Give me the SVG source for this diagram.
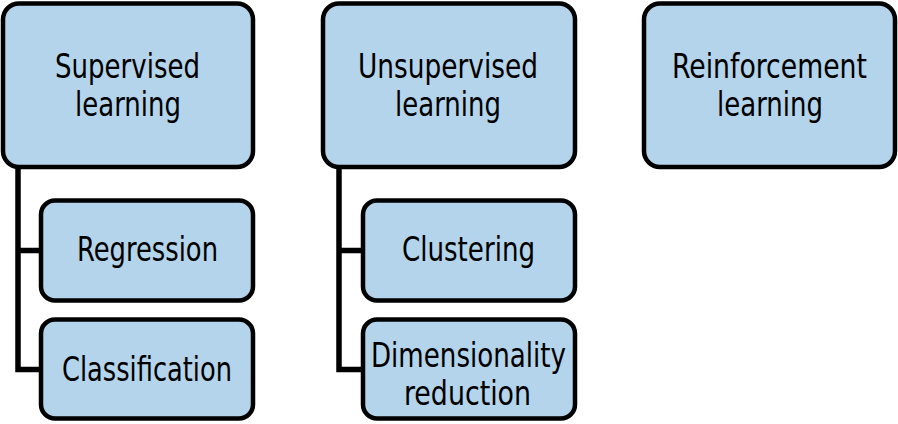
<svg xmlns="http://www.w3.org/2000/svg" width="898" height="424" viewBox="0 0 898 424">
<style>
.box{fill:#b3d4ea;stroke:#000;stroke-width:4.5}
.t{font-family:"DejaVu Sans Condensed","DejaVu Sans",sans-serif;font-stretch:condensed;font-size:34px;fill:#000;text-anchor:middle}
.c{fill:none;stroke:#000;stroke-width:5.5}
</style>
<rect width="898" height="424" fill="#fff"/>
<g id="connectors">
<path class="c" d="M18 167 V369.5 H41 M18 250.5 H41"/>
<path class="c" d="M339 167 V369.5 H363 M339 250.5 H363"/>
</g>
<g id="supervised">
<rect class="box" x="3" y="3.5" width="250" height="163.5" rx="16"/>
<text class="t" x="127.5" y="78" textLength="145" lengthAdjust="spacingAndGlyphs">Supervised</text>
<text class="t" x="128" y="116" textLength="106" lengthAdjust="spacingAndGlyphs">learning</text>
</g>
<g id="regression">
<rect class="box" x="41" y="200.5" width="212" height="100" rx="14"/>
<text class="t" x="147.5" y="261" textLength="141" lengthAdjust="spacingAndGlyphs">Regression</text>
</g>
<g id="classification">
<rect class="box" x="41" y="319.5" width="212" height="99" rx="14"/>
<text class="t" x="147" y="381" textLength="170" lengthAdjust="spacingAndGlyphs">Classification</text>
</g>
<g id="unsupervised">
<rect class="box" x="323" y="3.5" width="252" height="163.5" rx="16"/>
<text class="t" x="448" y="78" textLength="180" lengthAdjust="spacingAndGlyphs">Unsupervised</text>
<text class="t" x="448" y="116" textLength="106" lengthAdjust="spacingAndGlyphs">learning</text>
</g>
<g id="clustering">
<rect class="box" x="363" y="200.5" width="212" height="100" rx="14"/>
<text class="t" x="468.5" y="261" textLength="133" lengthAdjust="spacingAndGlyphs">Clustering</text>
</g>
<g id="dimensionality">
<rect class="box" x="363" y="319.5" width="212" height="99" rx="14"/>
<text class="t" x="468.5" y="367" textLength="195" lengthAdjust="spacingAndGlyphs">Dimensionality</text>
<text class="t" x="467.5" y="405" textLength="127" lengthAdjust="spacingAndGlyphs">reduction</text>
</g>
<g id="reinforcement">
<rect class="box" x="644" y="3.5" width="251" height="163.5" rx="16"/>
<text class="t" x="769.5" y="78" textLength="195" lengthAdjust="spacingAndGlyphs">Reinforcement</text>
<text class="t" x="770" y="116" textLength="106" lengthAdjust="spacingAndGlyphs">learning</text>
</g>
</svg>
